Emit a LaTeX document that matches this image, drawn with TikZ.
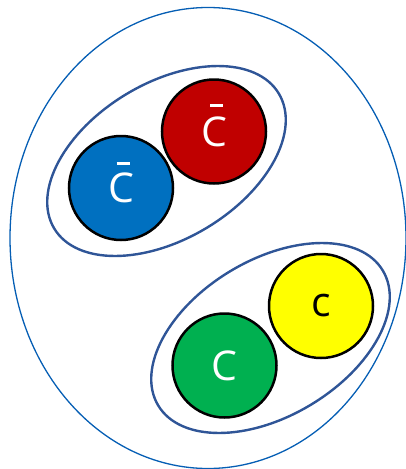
\documentclass[tikz,border=0pt]{standalone}
\usepackage{fontspec}
\setmainfont{Open Sans}
\usepackage{tikz}
\usetikzlibrary{shapes.geometric}
\definecolor{quarkblue}{RGB}{0,112,192}
\definecolor{quarkred}{RGB}{192,0,0}
\definecolor{quarkgreen}{RGB}{0,176,80}
\definecolor{quarkyellow}{RGB}{255,255,0}
\definecolor{outer}{RGB}{5,94,180}
\definecolor{pairline}{RGB}{47,85,151}
\newcommand{\flav}[1]{\raisebox{-3pt}{#1}}

\begin{document}
\begin{tikzpicture}[
  x=1pt, y=-1pt,
  ball/.style={circle, draw=black, line width=2.5pt, minimum size=104pt,
    inner sep=0pt, font=\fontsize{41}{41}\selectfont},
  pair/.style={ellipse, draw=pairline, line width=2.4pt,
    minimum width=262pt, minimum height=156pt, rotate=31},
  bar/.style={white, line width=3pt}
]
\useasboundingbox (0,0) rectangle (405,469);
\node[ellipse, draw=outer, line width=1.3pt, minimum width=396pt,
  minimum height=461pt] (hadron) at (208,238) {};

\node[pair] (antipair) at (166.5,161) {};
\node[pair] (pair) at (270.5,338) {};

\node[ball, fill=quarkblue, text=white] (blue) at (121,188) {\flav{C}};
\node[ball, fill=quarkred, text=white] (red) at (214,131.5) {\flav{C}};
\node[ball, fill=quarkgreen, text=white] (green) at (224.5,365.5) {\flav{C}};
\node[ball, fill=quarkyellow, text=black] (yellow) at (321,306) {\flav{c}};

\draw[bar] ([shift={(-4.5,-25)}]blue.center) -- ++(13,0);
\draw[bar] ([shift={(-4,-26)}]red.center) -- ++(13,0);
\end{tikzpicture}
\end{document}
